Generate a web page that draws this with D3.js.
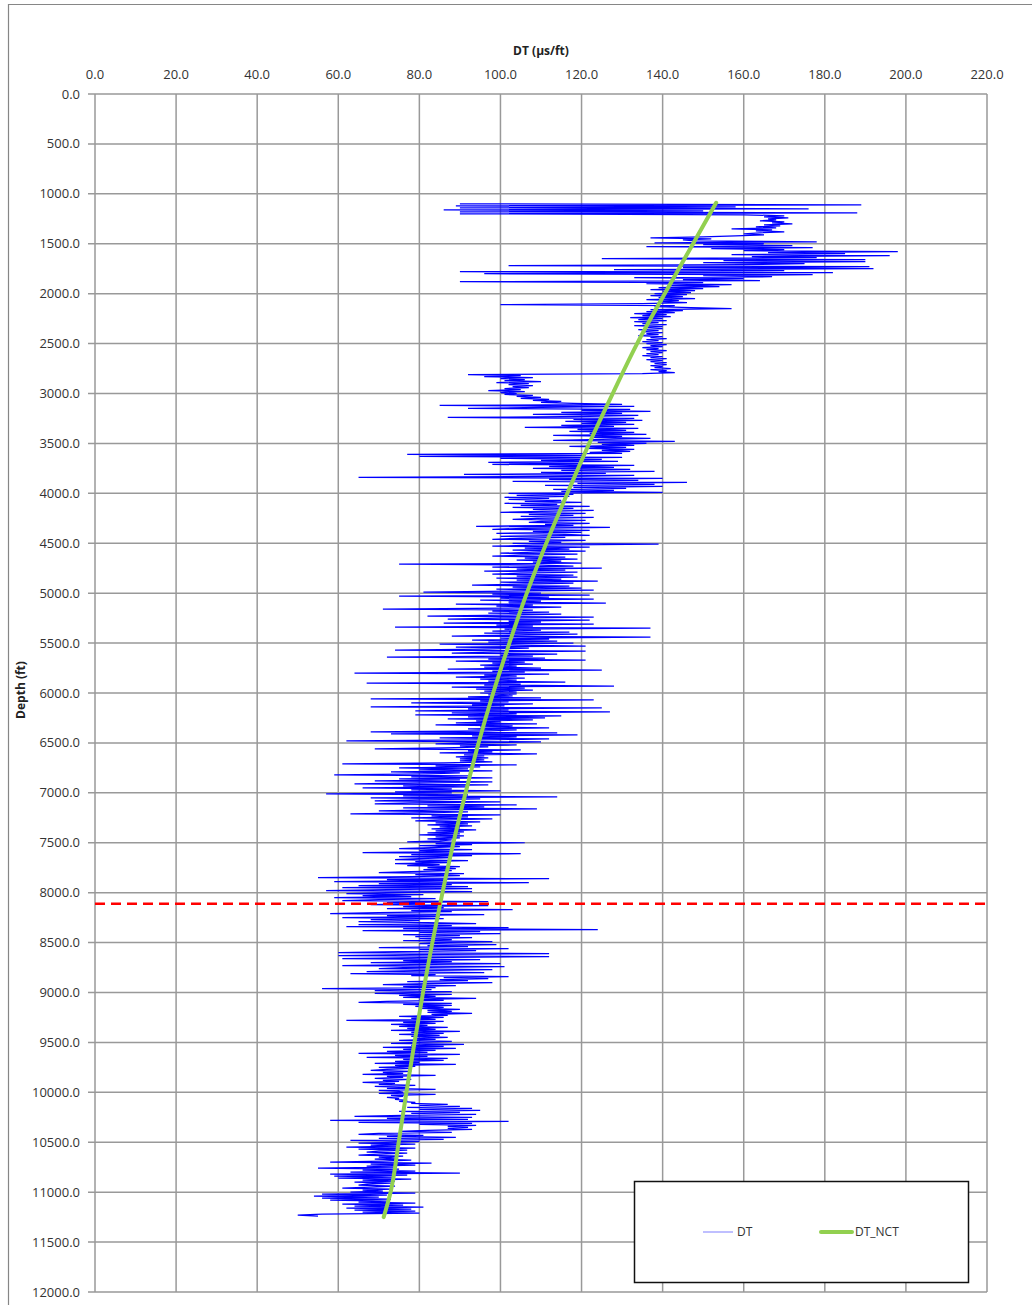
<!DOCTYPE html>
<html>
<head>
<meta charset="utf-8">
<script src="https://cdn.jsdelivr.net/npm/d3@7"></script>
<style>
  body { margin: 0; background: #fff; }
  text { font-family: "Open Sans", "DejaVu Sans", sans-serif; }
</style>
</head>
<body>
<script>
// DT log, sampled every 10 ft from 1100 ft (one row = 100 ft)
var dtStartDepth = 1100;
var dtStep = 10;
var dtValues = [
  90,189,89,158,90,176,86,150,90,188,      // 1100
  90,160,170,165,171,166,168,164,170,167,  // 1200
  172,165,169,163,168,157,167,163,170,164, // 1300
  160,165,158,150,137,152,145,148,178,138, // 1400
  165,150,172,136,177,152,170,160,198,166, // 1500
  185,157,196,162,178,125,190,155,190,150, // 1600
  175,160,102,191,145,192,128,170,90,182,  // 1700
  96,177,150,167,133,160,145,164,90,150,   // 1800
  136,157,142,154,139,150,137,148,140,147, // 1900
  138,146,137,145,139,148,136,144,140,146, // 2000
  135,100,143,138,147,157,137,145,136,143, // 2100
  133,141,135,142,132,140,134,141,133,139, // 2200
  135,141,133,140,136,140,134,139,135,140, // 2300
  136,139,134,140,137,141,136,139,135,140, // 2400
  136,141,137,140,135,139,136,141,137,140, // 2500
  136,139,135,140,137,141,136,140,137,141, // 2600
  138,141,137,140,138,142,137,141,139,143, // 2700
  135,92,105,96,108,100,106,101,110,99,    // 2800
  107,102,108,103,107,101,105,97,106,100,  // 2900
  104,101,108,104,110,105,112,108,115,110, // 3000
  118,130,85,133,110,92,132,120,137,115,   // 3100
  130,108,134,122,87,133,118,135,116,131,  // 3200
  120,133,115,128,106,134,119,131,117,133, // 3300
  122,136,113,130,123,137,125,113,143,124, // 3400
  136,125,133,117,131,121,133,125,132,122, // 3500
  130,77,121,80,130,100,125,110,129,97,    // 3600
  120,98,133,112,128,108,132,115,138,110,  // 3700
  126,91,133,118,65,140,112,134,103,146,   // 3800
  119,138,111,140,118,131,113,128,115,140, // 3900
  102,118,104,117,101,112,102,115,106,120, // 4000
  101,114,105,122,103,118,108,123,110,100, // 4100
  121,107,118,105,123,109,103,121,110,107, // 4200
  122,111,118,94,127,106,98,122,108,120,   // 4300
  99,116,122,100,116,105,98,121,107,115,   // 4400
  103,139,108,98,122,106,117,103,121,108,  // 4500
  100,119,105,98,116,106,119,104,115,108,  // 4600
  120,75,110,118,98,125,104,116,96,119,    // 4700
  105,98,118,104,119,99,115,104,124,100,   // 4800
  118,106,93,117,103,120,99,123,102,81,    // 4900
  110,98,122,75,112,100,123,95,110,102,    // 5000
  126,89,108,99,115,101,71,108,98,112,     // 5100
  97,115,101,82,123,100,87,122,102,110,    // 5200
  86,123,99,108,74,137,101,110,98,117,     // 5300
  96,119,102,88,137,100,112,93,114,97,     // 5400
  118,85,104,121,89,107,96,74,121,98,      // 5500
  88,114,100,108,72,111,97,121,89,106,     // 5600
  98,108,95,104,96,110,87,125,98,106,      // 5700
  64,112,96,104,89,106,95,104,97,116,      // 5800
  67,105,96,128,88,106,94,108,96,104,      // 5900
  95,104,97,103,92,110,68,123,95,102,      // 6000
  78,108,93,101,68,125,92,102,79,127,      // 6100
  88,104,79,115,92,111,87,108,94,100,      // 6200
  89,109,84,103,95,112,92,104,96,68,       // 6300
  114,73,119,93,104,85,112,95,62,110,      // 6400
  92,84,104,90,97,86,69,105,92,98,         // 6500
  85,109,91,96,89,97,90,96,90,98,          // 6600
  86,61,104,84,95,75,92,80,98,73,          // 6700
  90,82,59,92,78,98,75,90,69,98,           // 6800
  80,64,97,76,92,66,88,78,100,74,          // 6900
  88,57,92,76,114,68,95,80,69,100,         // 7000
  78,69,104,82,96,76,109,84,70,92,         // 7100
  80,63,100,83,92,78,98,85,79,95,          // 7200
  84,92,82,93,85,90,83,94,84,91,           // 7300
  82,90,80,91,84,90,82,88,85,77,           // 7400
  106,84,93,80,90,83,75,93,80,88,          // 7500
  66,105,78,93,75,88,80,74,92,79,          // 7600
  87,74,85,77,90,82,89,81,88,78,           // 7700
  70,91,79,90,78,55,112,72,86,59,          // 7800
  107,70,88,65,92,61,93,72,57,93,          // 7900
  72,62,81,66,78,59,84,70,61,97,           // 8000
  72,80,68,97,76,86,72,103,78,88,          // 8100
  70,58,96,72,85,61,86,68,80,65,           // 8200
  82,94,65,88,62,102,76,124,66,95,         // 8300
  80,100,76,90,79,93,80,88,76,98,          // 8400
  84,80,99,82,92,70,102,80,94,75,          // 8500
  60,112,78,60,112,80,61,95,76,88,         // 8600
  68,100,78,61,101,76,70,98,79,67,         // 8700
  96,63,84,78,102,86,97,85,92,77,          // 8800
  98,82,71,89,76,84,56,83,69,88,           // 8900
  78,69,88,75,84,76,94,80,86,72,           // 9000
  65,88,76,88,79,86,80,90,82,88,           // 9100
  82,93,83,87,75,86,78,84,62,86,           // 9200
  76,84,73,82,75,87,77,84,73,90,           // 9300
  78,86,75,85,78,87,79,84,75,88,           // 9400
  80,73,91,78,86,71,89,76,84,72,           // 9500
  82,65,90,74,82,67,87,76,86,74,           // 9600
  80,69,89,74,79,70,78,72,68,78,           // 9700
  71,76,66,84,72,76,69,78,71,75,           // 9800
  66,74,70,79,69,77,72,84,70,75,           // 9900
  76,70,84,73,76,72,75,74,77,75,           // 10000
  79,78,87,80,90,77,93,80,95,75,           // 10100
  90,78,94,76,64,93,72,92,58,102,          // 10200
  65,93,80,94,87,92,87,93,82,75,           // 10300
  88,70,65,81,72,89,70,86,63,80,           // 10400
  74,65,79,68,75,62,79,65,77,70,           // 10500
  67,77,70,65,76,70,74,69,78,71,           // 10600
  58,83,68,79,67,74,55,75,66,79,           // 10700
  63,90,58,77,59,74,60,78,66,74,           // 10800
  64,73,67,65,74,68,61,73,66,71,           // 10900
  63,79,56,72,54,70,56,73,58,72,           // 11000
  65,79,61,76,64,81,62,78,64,79,           // 11100
  66,80,56,50,55                           // 11200
];

// normal compaction trend
var nctDepths = [1090, 1500, 2000, 2500, 3000, 3500, 4000, 4500, 5000, 5500, 6000,
                 6500, 7000, 7500, 8000, 8500, 9000, 9500, 10000, 10500, 11000, 11250];
var nctValues = [153.2, 147.5, 140.5, 133.7, 127.7, 121.9, 116.5, 111.3, 106.5, 102.2, 98.2,
                 94.6, 91.4, 88.4, 85.7, 83.2, 80.9, 78.8, 76.8, 74.9, 72.9, 71.2];

var overpressureTop = 8110;

var xTicks = [0, 20, 40, 60, 80, 100, 120, 140, 160, 180, 200, 220];
var yTicks = d3.range(0, 12001, 500);

var width = 1032, height = 1305;
var plot = {left: 95, right: 987, top: 94, bottom: 1292};

var svg = d3.select("body")
    .append("svg")
    .attr("width", width)
    .attr("height", height);

svg.append("rect")
    .attr("width", width)
    .attr("height", height)
    .attr("fill", "#fff");

// chart frame (runs off the page right and bottom)
svg.append("path")
    .attr("d", "M8.5," + height + "V4.5H" + width)
    .attr("fill", "none")
    .attr("stroke", "#868686")
    .attr("stroke-width", 1.2);

var x = d3.scaleLinear().domain([0, 220]).range([plot.left, plot.right]);
var y = d3.scaleLinear().domain([0, 12000]).range([plot.top, plot.bottom]);

// grid
svg.append("g")
    .selectAll("line")
    .data(xTicks)
    .enter()
    .append("line")
    .attr("x1", function(d) { return x(d); })
    .attr("x2", function(d) { return x(d); })
    .attr("y1", plot.top)
    .attr("y2", plot.bottom)
    .attr("stroke", "#999")
    .attr("stroke-width", 1.5);

svg.append("g")
    .selectAll("line")
    .data(yTicks)
    .enter()
    .append("line")
    .attr("x1", plot.left - 7)
    .attr("x2", plot.right)
    .attr("y1", function(d) { return y(d); })
    .attr("y2", function(d) { return y(d); })
    .attr("stroke", "#999")
    .attr("stroke-width", 1.5);

// tick labels
svg.append("g")
    .selectAll("text")
    .data(xTicks)
    .enter()
    .append("text")
    .attr("x", function(d) { return x(d); })
    .attr("y", 74)
    .attr("dy", "0.35em")
    .attr("text-anchor", "middle")
    .attr("font-size", 13)
    .attr("fill", "#333")
    .text(function(d) { return d.toFixed(1); });

svg.append("g")
    .selectAll("text")
    .data(yTicks)
    .enter()
    .append("text")
    .attr("x", 80)
    .attr("y", function(d) { return y(d); })
    .attr("dy", "0.35em")
    .attr("text-anchor", "end")
    .attr("font-size", 13)
    .attr("fill", "#333")
    .text(function(d) { return d.toFixed(1); });

// axis titles
svg.append("text")
    .attr("x", 541)
    .attr("y", 51)
    .attr("dy", "0.35em")
    .attr("text-anchor", "middle")
    .attr("font-size", 12)
    .attr("font-weight", "bold")
    .attr("fill", "#222")
    .text("DT (µs/ft)");

svg.append("text")
    .attr("transform", "translate(21,690) rotate(-90)")
    .attr("dy", "0.35em")
    .attr("text-anchor", "middle")
    .attr("font-size", 12)
    .attr("font-weight", "bold")
    .attr("fill", "#222")
    .text("Depth (ft)");

svg.append("clipPath")
    .attr("id", "plotClip")
    .append("rect")
    .attr("x", plot.left)
    .attr("y", plot.top)
    .attr("width", plot.right - plot.left)
    .attr("height", plot.bottom - plot.top);

var marks = svg.append("g").attr("clip-path", "url(#plotClip)");

// DT trace
var dtLine = d3.line()
    .x(function(d) { return x(d); })
    .y(function(d, i) { return y(dtStartDepth + i * dtStep); });

marks.append("path")
    .datum(dtValues)
    .attr("d", dtLine)
    .attr("fill", "none")
    .attr("stroke", "#0000ff")
    .attr("stroke-width", 1.25);

// NCT
var nctLine = d3.line()
    .x(function(d) { return x(d); })
    .y(function(d, i) { return y(nctDepths[i]); })
    .curve(d3.curveMonotoneY);

marks.append("path")
    .datum(nctValues)
    .attr("d", nctLine)
    .attr("fill", "none")
    .attr("stroke", "#92d050")
    .attr("stroke-width", 4)
    .attr("stroke-linecap", "round");

// top of overpressure
marks.append("line")
    .attr("x1", plot.left)
    .attr("x2", plot.right)
    .attr("y1", y(overpressureTop))
    .attr("y2", y(overpressureTop))
    .attr("stroke", "#ff0000")
    .attr("stroke-width", 2.5)
    .attr("stroke-dasharray", "10,6");

// legend
var legend = svg.append("g");

legend.append("rect")
    .attr("x", 634.5)
    .attr("y", 1181.5)
    .attr("width", 334)
    .attr("height", 101)
    .attr("fill", "#fff")
    .attr("stroke", "#111")
    .attr("stroke-width", 1.5);

legend.append("line")
    .attr("x1", 703).attr("x2", 733)
    .attr("y1", 1232).attr("y2", 1232)
    .attr("stroke", "#0000ff")
    .attr("stroke-width", 1)
    .attr("stroke-opacity", 0.5);

legend.append("text")
    .attr("x", 737).attr("y", 1232)
    .attr("dy", "0.35em")
    .attr("font-size", 12)
    .attr("fill", "#333")
    .text("DT");

legend.append("line")
    .attr("x1", 821).attr("x2", 852)
    .attr("y1", 1232).attr("y2", 1232)
    .attr("stroke", "#92d050")
    .attr("stroke-width", 4)
    .attr("stroke-linecap", "round");

legend.append("text")
    .attr("x", 855).attr("y", 1232)
    .attr("dy", "0.35em")
    .attr("font-size", 12)
    .attr("fill", "#333")
    .text("DT_NCT");
</script>
</body>
</html>
